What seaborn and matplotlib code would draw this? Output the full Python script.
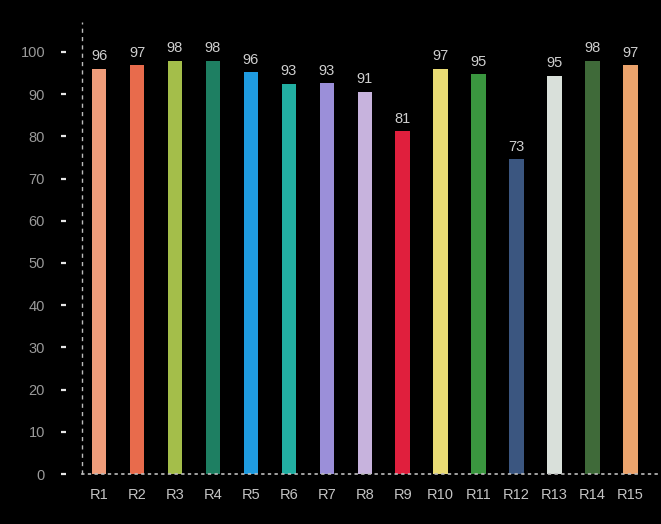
import matplotlib
matplotlib.use("Agg")
import matplotlib.pyplot as plt
import seaborn as sns
import pandas as pd

# data
regions = ["R1", "R2", "R3", "R4", "R5", "R6", "R7", "R8",
           "R9", "R10", "R11", "R12", "R13", "R14", "R15"]
scores = [96.0, 96.8, 97.9, 97.9, 95.2, 92.4, 92.6, 90.6,
          81.2, 96.0, 94.7, 74.6, 94.4, 97.9, 96.8]
score_labels = ["96", "97", "98", "98", "96", "93", "93", "91",
                "81", "97", "95", "73", "95", "98", "97"]
bar_colors = ["#EF9C7A", "#E86B4C", "#A4BE4A", "#1E7F62", "#1F9BE0",
              "#22AFA2", "#9B8FD9", "#C7B3DD", "#E01F3D", "#E9DB74",
              "#3A963F", "#3B5680", "#D9E0DA", "#3F6A39", "#EBA36C"]

df = pd.DataFrame({"region": regions, "score": scores})

sns.set_style("dark")
plt.rcParams["font.family"] = ["Liberation Sans", "DejaVu Sans"]

fig = plt.figure(figsize=(6.61, 5.24), dpi=100, facecolor="black")
ax = fig.add_axes([82 / 661, 50 / 524, 575 / 661, 452 / 524])
ax.set_facecolor("black")

sns.barplot(data=df, x="region", y="score", hue="region",
            palette=bar_colors, width=0.38, legend=False, ax=ax,
            saturation=1, edgecolor="none", linewidth=0)

ax.set_xlim(-0.45, 14.7)
ax.set_ylim(0, 107.1)
ax.set_yticks(range(0, 101, 10))
ax.set_xlabel("")
ax.set_ylabel("")
ax.grid(False)

# value labels above bars
for i, lab in enumerate(score_labels):
    ax.annotate(lab, (i, scores[i]), xytext=(0, 4), textcoords="offset points",
                ha="center", va="bottom", color="#cfcfcf", fontsize=10.5)

# spines: dotted bottom, dashed left drawn separately, ticks pushed outward
for s in ["top", "right", "left"]:
    ax.spines[s].set_visible(False)
ax.spines["bottom"].set_color("#bdbdbd")
ax.spines["bottom"].set_linestyle((0, (1, 3)))
ax.spines["bottom"].set_linewidth(1.2)
ax.spines["left"].set_position(("outward", 11.5))
ax.axvline(-0.45, color="#bdbdbd", linestyle=(0, (3, 3)), linewidth=1.0, clip_on=False)

ax.tick_params(axis="y", left=True, direction="out", length=3.6, width=1.6,
               color="#e6e6e6", pad=11.5, labelcolor="#9a9a9a", labelsize=10.5)
ax.tick_params(axis="x", bottom=False, length=0, pad=10, labelcolor="#c4c4c4",
               labelsize=10.5)

fig.savefig("out.png", dpi=100, facecolor="black")
